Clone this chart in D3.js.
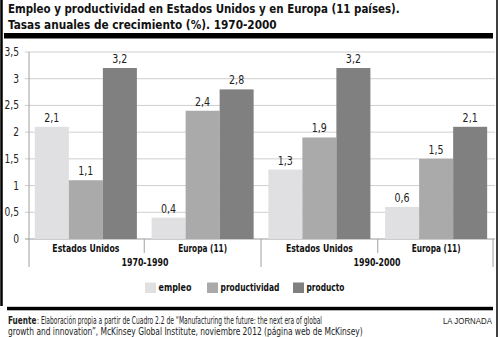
<!DOCTYPE html>
<html><head><meta charset="utf-8">
<script src="https://cdn.jsdelivr.net/npm/d3@7"></script>
<style>
html,body{margin:0;padding:0;background:#fff;}
text{font-family:"Liberation Sans Narrow","DejaVu Sans Condensed",sans-serif;}
</style></head>
<body>
<svg id="c" width="500" height="337"></svg>
<script>
const categories = ["Estados Unidos","Europa (11)","Estados Unidos","Europa (11)"];
const periods = ["1970-1990","1990-2000"];
const seriesNames = ["empleo","productividad","producto"];
const empleo = [2.1, 0.4, 1.3, 0.6];
const productividad = [1.1, 2.4, 1.9, 1.5];
const producto = [3.2, 2.8, 3.2, 2.1];
const yTicks = [0,0.5,1,1.5,2,2.5,3,3.5];
const colors = ["#e0e0e2","#aaaaaa","#808080"];

const series = [empleo, productividad, producto];
const svg = d3.select("#c");
const loc = d3.formatLocale({decimal:",", thousands:".", grouping:[3], currency:["",""]});
const fmt = v => loc.format(",")(v);

// horizontally condense text (narrow-font look) around its anchor x
function scaleTo(node, f){
  const x = +node.getAttribute("x");
  node.setAttribute("transform", `translate(${x},0) scale(${f},1) translate(${-x},0)`);
}
function fitW(sel, w){ sel.each(function(){ scaleTo(this, w/this.getComputedTextLength()); }); return sel; }
function squeeze(sel, f){ sel.each(function(){ scaleTo(this, f); }); return sel; }

// frame
svg.append("line").attr("x1",1.5).attr("x2",1.5).attr("y1",0).attr("y2",306).attr("stroke","#000").attr("stroke-width",2.5);
svg.append("line").attr("x1",497).attr("x2",497).attr("y1",0).attr("y2",337).attr("stroke","#000").attr("stroke-width",1.5);
svg.append("rect").attr("x",4).attr("y",33).attr("width",489).attr("height",5.5).attr("fill","#000");
svg.append("rect").attr("x",7).attr("y",306.8).attr("width",486).attr("height",3.5).attr("fill","#000");

// title
fitW(svg.append("text").attr("x",8).attr("y",13).attr("font-weight","bold").attr("font-size",13).attr("fill","#111")
  .text("Empleo y productividad en Estados Unidos y en Europa (11 países)."), 392);
fitW(svg.append("text").attr("x",8).attr("y",29.5).attr("font-weight","bold").attr("font-size",13).attr("fill","#111")
  .text("Tasas anuales de crecimiento (%). 1970-2000"), 269);

const x0 = d3.scaleBand().domain(d3.range(categories.length)).range([29,493]).paddingInner(0.126).paddingOuter(0.05);
const x1 = d3.scaleBand().domain(d3.range(seriesNames.length)).range([0,x0.bandwidth()]);
const y = d3.scaleLinear().domain([0,3.5]).range([239,52]);

// gridlines
svg.append("g").selectAll("line").data(yTicks).join("line")
  .attr("x1",25).attr("x2",495).attr("y1",d=>y(d)).attr("y2",d=>y(d))
  .attr("stroke",d=>d===0?"#9a9a9a":"#cfcfcf").attr("stroke-width",1);
squeeze(svg.append("g").selectAll("text").data(yTicks).join("text")
  .attr("x",19).attr("y",d=>y(d)+4).attr("text-anchor","end").attr("font-size",11.5).attr("fill","#222")
  .text(d=>fmt(d)), 0.88);

// bars
const g = svg.append("g");
categories.forEach((c,i)=>{
  series.forEach((s,j)=>{
    const bx = x0(i)+x1(j);
    g.append("rect").attr("x",bx).attr("width",x1.bandwidth()).attr("y",y(s[i])).attr("height",y(0)-y(s[i])).attr("fill",colors[j]);
    squeeze(g.append("text").attr("x",bx+x1.bandwidth()/2).attr("y",y(s[i])-5).attr("text-anchor","middle").attr("font-size",12).attr("fill","#222").text(fmt(s[i])), 0.88);
  });
});

// axis separators
const bounds = [29];
for(let i=1;i<categories.length;i++) bounds.push((x0(i-1)+x0.bandwidth()+x0(i))/2);
bounds.push(493);
svg.append("g").selectAll("line").data(bounds).join("line")
  .attr("x1",d=>d).attr("x2",d=>d).attr("y1",(d,i)=> i===0?52:239)
  .attr("y2",(d,i)=> (i%2===0)?267:253).attr("stroke","#a0a0a0").attr("stroke-width",1);
// category labels
const catW = {"Estados Unidos":67, "Europa (11)":49};
svg.append("g").selectAll("text").data(categories).join("text")
  .attr("x",(d,i)=>x0(i)+x0.bandwidth()/2).attr("y",252).attr("text-anchor","middle")
  .attr("font-weight","bold").attr("font-size",11).attr("fill","#111").text(d=>d)
  .each(function(d){ scaleTo(this, catW[d]/this.getComputedTextLength()); });
fitW(svg.append("g").selectAll("text").data(periods).join("text")
  .attr("x",(d,i)=>(bounds[i*2]+bounds[i*2+2])/2).attr("y",266.5).attr("text-anchor","middle")
  .attr("font-weight","bold").attr("font-size",11).attr("fill","#111").text(d=>d), 47);

// legend
const legX = [145,207,293];
const legW = [33,59,38];
seriesNames.forEach((n,j)=>{
  svg.append("rect").attr("x",legX[j]).attr("y",282.5).attr("width",11).attr("height",10.5).attr("fill",colors[j]);
  fitW(svg.append("text").attr("x",legX[j]+13.5).attr("y",291.5).attr("font-weight","bold").attr("font-size",11).attr("fill","#111").text(n), legW[j]);
});

// footnote
fitW(svg.append("text").attr("x",8).attr("y",324).attr("font-size",10.4).attr("font-weight","bold").attr("fill","#222").text("Fuente"), 28.5);
fitW(svg.append("text").attr("x",37).attr("y",324).attr("font-size",10.4).attr("fill","#222")
  .text(": Elaboración propia a partir de Cuadro 2.2 de “Manufacturing the future: the next era of global"), 285);
fitW(svg.append("text").attr("x",8).attr("y",334.8).attr("font-size",10.4).attr("fill","#222")
  .text("growth and innovation”, McKinsey Global Institute, noviembre 2012 (página web de McKinsey)"), 355);
fitW(svg.append("text").attr("x",443).attr("y",324).attr("font-size",8.8).attr("fill","#222")
  .style("font-family","'Liberation Sans',Arial,sans-serif").text("LA JORNADA"), 49);
</script>
</body></html>
